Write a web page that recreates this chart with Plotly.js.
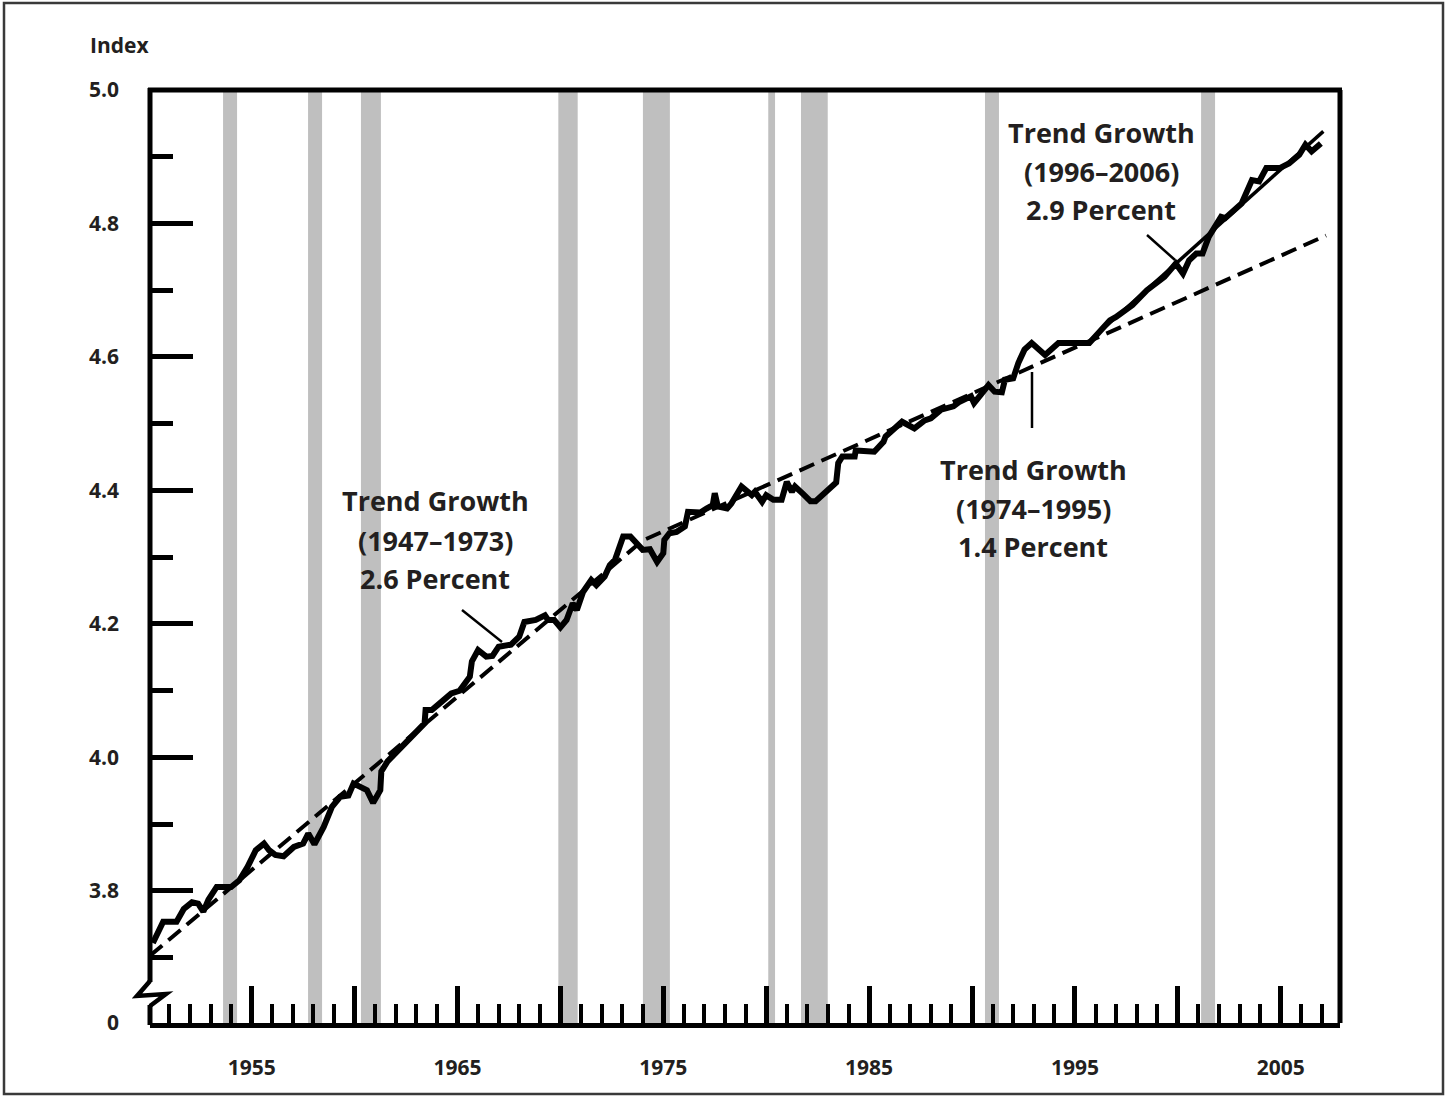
<!DOCTYPE html>
<html>
<head>
<meta charset="utf-8">
<script src="https://cdn.plot.ly/plotly-3.0.1.min.js"></script>
<style>
  html, body { margin: 0; padding: 0; background: #ffffff; }
  #chart { width: 1448px; height: 1096px; }
</style>
</head>
<body>
<div id="chart"></div>
<script>
// ---------------- DATA ----------------
// Productivity index (log)
var years = [
  1950.2, 1950.7, 1951.35, 1951.7, 1952.1, 1952.4, 1952.65, 1952.9, 1953.3, 1954.0,
  1954.4, 1954.8, 1955.2, 1955.6, 1955.85, 1956.15, 1956.55, 1957.05, 1957.5, 1957.75,
  1958.05, 1958.5, 1958.9, 1959.3, 1959.7, 1959.95, 1960.6, 1960.9, 1961.25, 1961.3,
  1961.6, 1962.3, 1962.8, 1963.4, 1963.45, 1963.75, 1964.25, 1964.7, 1965.1, 1965.6,
  1965.7, 1966.0, 1966.4, 1966.7, 1967.0, 1967.6, 1968.0, 1968.25, 1968.8, 1969.25,
  1969.4, 1969.7, 1970.0, 1970.3, 1970.6, 1970.8, 1971.1, 1971.5, 1971.75, 1972.15,
  1972.4, 1972.65, 1973.05, 1973.4, 1974.0, 1974.35, 1974.7, 1975.0, 1975.05, 1975.3,
  1975.65, 1976.05, 1976.2, 1976.8, 1977.1, 1977.4, 1977.5, 1977.65, 1978.1, 1978.3,
  1978.8, 1979.3, 1979.45, 1979.8, 1980.0, 1980.35, 1980.75, 1981.0, 1981.25, 1981.4,
  1981.75, 1982.15, 1982.4, 1983.4, 1983.5, 1983.7, 1984.3, 1984.35, 1985.25, 1985.7,
  1985.8, 1986.6, 1987.2, 1987.7, 1988.0, 1988.5, 1989.1, 1989.4, 1989.95, 1990.1,
  1990.8, 1991.1, 1991.45, 1991.6, 1992.0, 1992.25, 1992.55, 1992.9, 1993.55, 1994.2,
  1995.7, 1996.7, 1997.0, 1997.8, 1998.5, 1999.35, 1999.9, 2000.25, 2000.55, 2000.9,
  2001.2, 2001.5, 2002.1, 2002.3, 2003.1, 2003.6, 2003.95, 2004.3, 2004.95, 2005.4,
  2005.9, 2006.2, 2006.5, 2006.95
];
var index = [
  3.722, 3.754, 3.754, 3.773, 3.783, 3.781, 3.769, 3.787, 3.806, 3.806,
  3.816, 3.836, 3.861, 3.871, 3.861, 3.854, 3.852, 3.866, 3.871, 3.886,
  3.870, 3.896, 3.926, 3.941, 3.943, 3.961, 3.951, 3.932, 3.951, 3.979,
  3.994, 4.016, 4.029, 4.051, 4.071, 4.071, 4.084, 4.096, 4.100, 4.121,
  4.144, 4.161, 4.151, 4.152, 4.166, 4.169, 4.181, 4.203, 4.206, 4.213,
  4.206, 4.206, 4.195, 4.206, 4.231, 4.221, 4.248, 4.266, 4.258, 4.271,
  4.288, 4.296, 4.331, 4.331, 4.311, 4.312, 4.293, 4.306, 4.326, 4.336,
  4.338, 4.346, 4.368, 4.367, 4.373, 4.378, 4.396, 4.376, 4.373, 4.380,
  4.406, 4.393, 4.398, 4.383, 4.393, 4.386, 4.386, 4.413, 4.398, 4.406,
  4.396, 4.384, 4.384, 4.412, 4.441, 4.451, 4.451, 4.460, 4.458, 4.473,
  4.481, 4.503, 4.493, 4.505, 4.508, 4.521, 4.526, 4.533, 4.541, 4.531,
  4.558, 4.548, 4.547, 4.566, 4.568, 4.591, 4.611, 4.621, 4.603, 4.621,
  4.621, 4.655, 4.660, 4.678, 4.700, 4.720, 4.740, 4.725, 4.745, 4.755,
  4.755, 4.780, 4.810, 4.808, 4.830, 4.865, 4.863, 4.883, 4.883, 4.890,
  4.903, 4.918, 4.908, 4.920
];

// Trend lines: 1947-1973 (2.6%) joined to 1974-1995 (1.4%), dashed
var trendOldX = [1950.06, 1974.0, 2007.2];
var trendOldY = [3.703, 4.325, 4.782];
// Trend 1996-2006 (2.9%), solid
var trendNewX = [1995.75, 2007.07];
var trendNewY = [4.625, 4.938];

// Recessions (shaded bands)
var recStart = [1953.61, 1957.74, 1960.31, 1969.90, 1974.01, 1980.10, 1981.69, 1990.63, 2001.13];
var recEnd   = [1954.29, 1958.42, 1961.28, 1970.84, 1975.32, 1980.43, 1982.99, 1991.31, 2001.81];

// Axis ticks
var yTickVals  = [3.6025, 3.8, 4.0, 4.2, 4.4, 4.6, 4.8, 5.0];
var yTickText  = ['0', '3.8', '4.0', '4.2', '4.4', '4.6', '4.8', '5.0'];
var yMinorVals = [3.7, 3.9, 4.1, 4.3, 4.5, 4.7, 4.9];
var xTickVals  = [1955, 1965, 1975, 1985, 1995, 2005];
var xMajorVals = [1955, 1960, 1965, 1970, 1975, 1980, 1985, 1990, 1995, 2000, 2005];

// Annotation texts
var labels = [
  {lines: ['Trend Growth', '(1947\u20131973)', '2.6 Percent'], cx: 435, ys: [500, 540, 578]},
  {lines: ['Trend Growth', '(1974\u20131995)', '1.4 Percent'], cx: 1033, ys: [469, 508, 546]},
  {lines: ['Trend Growth', '(1996\u20132006)', '2.9 Percent'], cx: 1101, ys: [133, 171, 209]}
];

// ---------------- LAYOUT HELPERS ----------------
var W = 1448, H = 1096;
var L = 150, R = 1340, T = 90, B = 1023;
function px(x) { return (x - L) / (R - L); }
function py(y) { return (B - y) / (B - T); }

var ink = '#231f20';
var FONT = '"Open Sans", "Noto Sans", "DejaVu Sans", sans-serif';

var shapes = [];
for (var i = 0; i < recStart.length; i++) {
  shapes.push({type: 'rect', xref: 'x', yref: 'paper', x0: recStart[i], x1: recEnd[i], y0: 0, y1: 1,
               fillcolor: '#bfbfbf', line: {width: 0}, layer: 'below'});
}
// frame lines
var lw = 5;
shapes.push({type: 'line', xref: 'paper', yref: 'paper', x0: px(L - 2), x1: px(R + 2), y0: 1, y1: 1, line: {color: '#000', width: lw}});
shapes.push({type: 'line', xref: 'paper', yref: 'paper', x0: 1, x1: 1, y0: 0, y1: 1, line: {color: '#000', width: lw}});
shapes.push({type: 'line', xref: 'paper', yref: 'paper', x0: 0, x1: 0, y0: py(982), y1: py(T - 2), line: {color: '#000', width: lw}});
shapes.push({type: 'line', xref: 'paper', yref: 'paper', x0: 0, x1: 0, y0: py(B + 2), y1: py(1005), line: {color: '#000', width: lw}});
shapes.push({type: 'path', xref: 'paper', yref: 'paper',
  path: 'M ' + px(150) + ',' + py(981) + ' L ' + px(137) + ',' + py(996) + ' L ' + px(166) + ',' + py(994) + ' L ' + px(150) + ',' + py(1006),
  line: {color: '#000', width: 4.5}});
// pointer lines
shapes.push({type: 'line', xref: 'paper', yref: 'paper', x0: px(462), y0: py(610), x1: px(502), y1: py(642), line: {color: '#000', width: 2.5}});
shapes.push({type: 'line', xref: 'paper', yref: 'paper', x0: px(1032), y0: py(372), x1: px(1032), y1: py(428), line: {color: '#000', width: 2.5}});
shapes.push({type: 'line', xref: 'paper', yref: 'paper', x0: px(1147), y0: py(235), x1: px(1175), y1: py(260), line: {color: '#000', width: 2.5}});
// outer border of figure
shapes.push({type: 'rect', xref: 'paper', yref: 'paper', x0: px(4), x1: px(1443), y0: py(1094), y1: py(3),
  line: {color: '#3a3a3a', width: 2.5}, fillcolor: 'rgba(0,0,0,0)'});

var annotations = [];
annotations.push({xref: 'paper', yref: 'paper', x: px(88), y: py(45), xanchor: 'left', yanchor: 'middle',
  text: 'Index', showarrow: false, font: {family: FONT, size: 21, color: ink, weight: 700}});
labels.forEach(function (lb) {
  lb.lines.forEach(function (t, k) {
    annotations.push({xref: 'paper', yref: 'paper', x: px(lb.cx), y: py(lb.ys[k]), xanchor: 'center', yanchor: 'middle',
      text: t, showarrow: false, font: {family: FONT, size: 27, color: ink, weight: 700}});
  });
});

var traces = [
  {x: trendOldX, y: trendOldY, type: 'scatter', mode: 'lines', hoverinfo: 'skip',
   line: {color: '#000', width: 4, dash: '16px,8px'}},
  {x: trendNewX, y: trendNewY, type: 'scatter', mode: 'lines', hoverinfo: 'skip',
   line: {color: '#000', width: 3.5}},
  {x: years, y: index, type: 'scatter', mode: 'lines', hoverinfo: 'skip',
   line: {color: '#000', width: 6}}
];

var layout = {
  width: W, height: H,
  margin: {l: L, r: W - R, t: T, b: H - B, pad: 0},
  paper_bgcolor: '#ffffff', plot_bgcolor: '#ffffff',
  showlegend: false,
  xaxis: {
    range: [1950.06, 2007.88], showgrid: false, zeroline: false,
    showline: true, linecolor: '#000', linewidth: 5,
    tickmode: 'array', tickvals: xMajorVals,
    ticktext: xMajorVals.map(function (v) { return xTickVals.indexOf(v) >= 0 ? String(v) : ''; }),
    ticks: 'inside', ticklen: 37, tickwidth: 5, tickcolor: '#000',
    ticklabelstandoff: 22,
    tickfont: {family: FONT, size: 21, color: ink, weight: 700},
    minor: {tickmode: 'linear', tick0: 1950, dtick: 1, ticks: 'inside', ticklen: 19, tickwidth: 4, tickcolor: '#000', showgrid: false}
  },
  yaxis: {
    range: [3.6022, 5.0], showgrid: false, zeroline: false, showline: false,
    tickmode: 'array', tickvals: yTickVals, ticktext: yTickText,
    ticks: 'inside', ticklen: 43, tickwidth: 5, tickcolor: '#000',
    ticklabelstandoff: 30,
    tickfont: {family: FONT, size: 21, color: ink, weight: 700},
    minor: {tickmode: 'array', tickvals: yMinorVals, ticks: 'inside', ticklen: 23, tickwidth: 5, tickcolor: '#000', showgrid: false}
  },
  shapes: shapes,
  annotations: annotations
};

Plotly.newPlot('chart', traces, layout, {displayModeBar: false, staticPlot: true});
</script>
</body>
</html>
